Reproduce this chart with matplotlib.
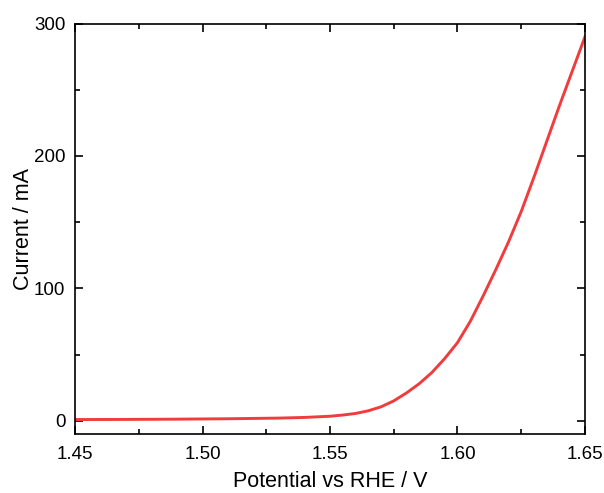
import numpy as np
import matplotlib.pyplot as plt
from matplotlib.ticker import MultipleLocator

plt.rcParams['font.family'] = ['Liberation Sans', 'DejaVu Sans']

# LSV curve
potential = [1.45, 1.47, 1.49, 1.51, 1.53, 1.54, 1.55, 1.555, 1.56, 1.565,
             1.57, 1.575, 1.58, 1.585, 1.59, 1.595, 1.60, 1.605, 1.61, 1.615,
             1.62, 1.625, 1.63, 1.635, 1.64, 1.645, 1.65]
current = [0.9, 1.0, 1.2, 1.5, 2.0, 2.5, 3.4, 4.3, 5.5, 7.5,
           10.5, 15, 21, 28, 36.5, 47, 59, 75, 94, 114,
           135, 158, 184, 211, 238, 264, 290]

fig = plt.figure(figsize=(6.04, 4.93), dpi=100)
ax = fig.add_axes([0.1242, 0.1197, 0.8443, 0.8326])

ax.plot(potential, current, color='#f03c3c', lw=2.1, solid_joinstyle='round')

ax.set_xlim(1.45, 1.65)
ax.set_ylim(-10, 300)
ax.xaxis.set_major_locator(MultipleLocator(0.05))
ax.xaxis.set_minor_locator(MultipleLocator(0.025))
ax.yaxis.set_major_locator(MultipleLocator(100))
ax.yaxis.set_minor_locator(MultipleLocator(50))
ax.set_xticklabels([f'{v:.2f}' for v in ax.get_xticks()])

ax.tick_params(which='both', direction='in', top=True, right=True, width=1.2, labelsize=13.5)
ax.tick_params(axis='x', pad=8.5)
ax.tick_params(axis='y', pad=7)
ax.tick_params(which='major', length=6)
ax.tick_params(which='minor', length=3.5)
for s in ax.spines.values():
    s.set_linewidth(1.2)

ax.set_xlabel('Potential vs RHE / V', fontsize=15.5, labelpad=6)
ax.set_ylabel('Current / mA', fontsize=15.5, labelpad=0)

fig.savefig('out.png', dpi=100)
